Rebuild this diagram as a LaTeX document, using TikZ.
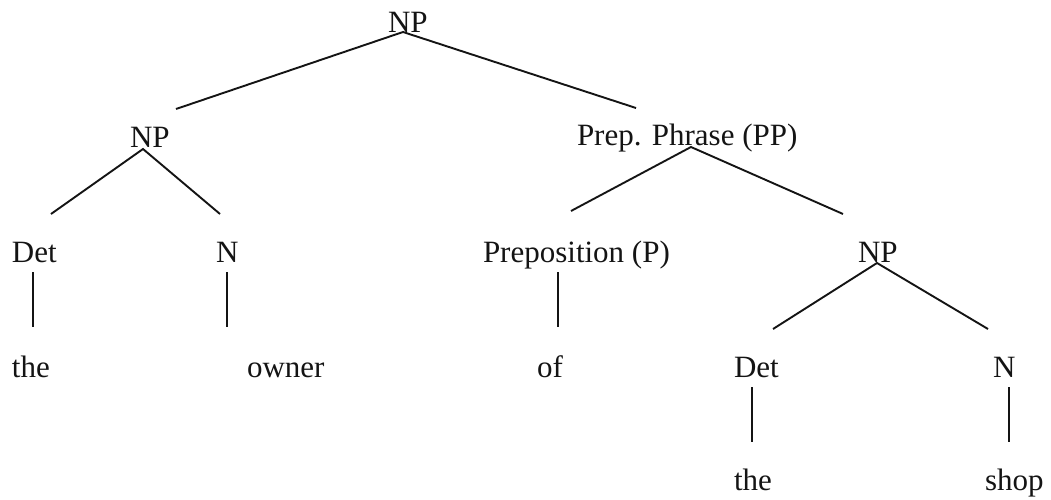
\documentclass[tikz,border=0pt]{standalone}
\usepackage{fontspec}
\setmainfont{Liberation Serif}
\begin{document}
\begin{tikzpicture}[x=1pt,y=-1pt,
  lbl/.style={anchor=base west,inner sep=0pt,outer sep=0pt,text=black!92,
              font=\fontsize{31}{37}\selectfont},
  branch/.style={draw=black!92,line width=1.9pt}]
\useasboundingbox (0,0) rectangle (1051,500);

% labels (left edge, baseline)
\node[lbl] (np0)  at (388,33)  {NP};
\node[lbl] (np1)  at (130,147) {NP};
\node[lbl] (pp)   at (577,146) {Prep. Phrase (PP)};
\node[lbl] (det1) at (12,262)  {Det};
\node[lbl] (n1)   at (216,262) {N};
\node[lbl] (prep) at (483,262) {Preposition (P)};
\node[lbl] (np2)  at (858,262) {NP};
\node[lbl] (w1)   at (12,377)  {the};
\node[lbl] (w2)   at (247,377) {owner};
\node[lbl] (w3)   at (537,377) {of};
\node[lbl] (det2) at (734,377) {Det};
\node[lbl] (n2)   at (993,377) {N};
\node[lbl] (w4)   at (734,490) {the};
\node[lbl] (w5)   at (985,490) {shop};

% branch end points
\coordinate (np0-b)  at (403,32);
\coordinate (np1-t)  at (176,109);
\coordinate (pp-t)   at (636,108);
\coordinate (np1-b)  at (143,149);
\coordinate (det1-t) at (51,214);
\coordinate (n1-t)   at (220,214);
\coordinate (pp-b)   at (691,147);
\coordinate (prep-t) at (571,211);
\coordinate (np2-t)  at (843,214);
\coordinate (np2-b)  at (877,263);
\coordinate (det2-t) at (773,329);
\coordinate (n2-t)   at (988,329);
\coordinate (det1-b) at (33,272);
\coordinate (w1-t)   at (33,327);
\coordinate (n1-b)   at (227,272);
\coordinate (w2-t)   at (227,327);
\coordinate (prep-b) at (558,272);
\coordinate (w3-t)   at (558,327);
\coordinate (det2-b) at (752,387);
\coordinate (w4-t)   at (752,442);
\coordinate (n2-b)   at (1009,387);
\coordinate (w5-t)   at (1009,442);

% branches
\draw[branch] (np1-t) -- (np0-b) -- (pp-t);
\draw[branch] (det1-t) -- (np1-b) -- (n1-t);
\draw[branch] (prep-t) -- (pp-b) -- (np2-t);
\draw[branch] (det2-t) -- (np2-b) -- (n2-t);
\draw[branch] (det1-b) -- (w1-t);
\draw[branch] (n1-b) -- (w2-t);
\draw[branch] (prep-b) -- (w3-t);
\draw[branch] (det2-b) -- (w4-t);
\draw[branch] (n2-b) -- (w5-t);
\end{tikzpicture}
\end{document}
